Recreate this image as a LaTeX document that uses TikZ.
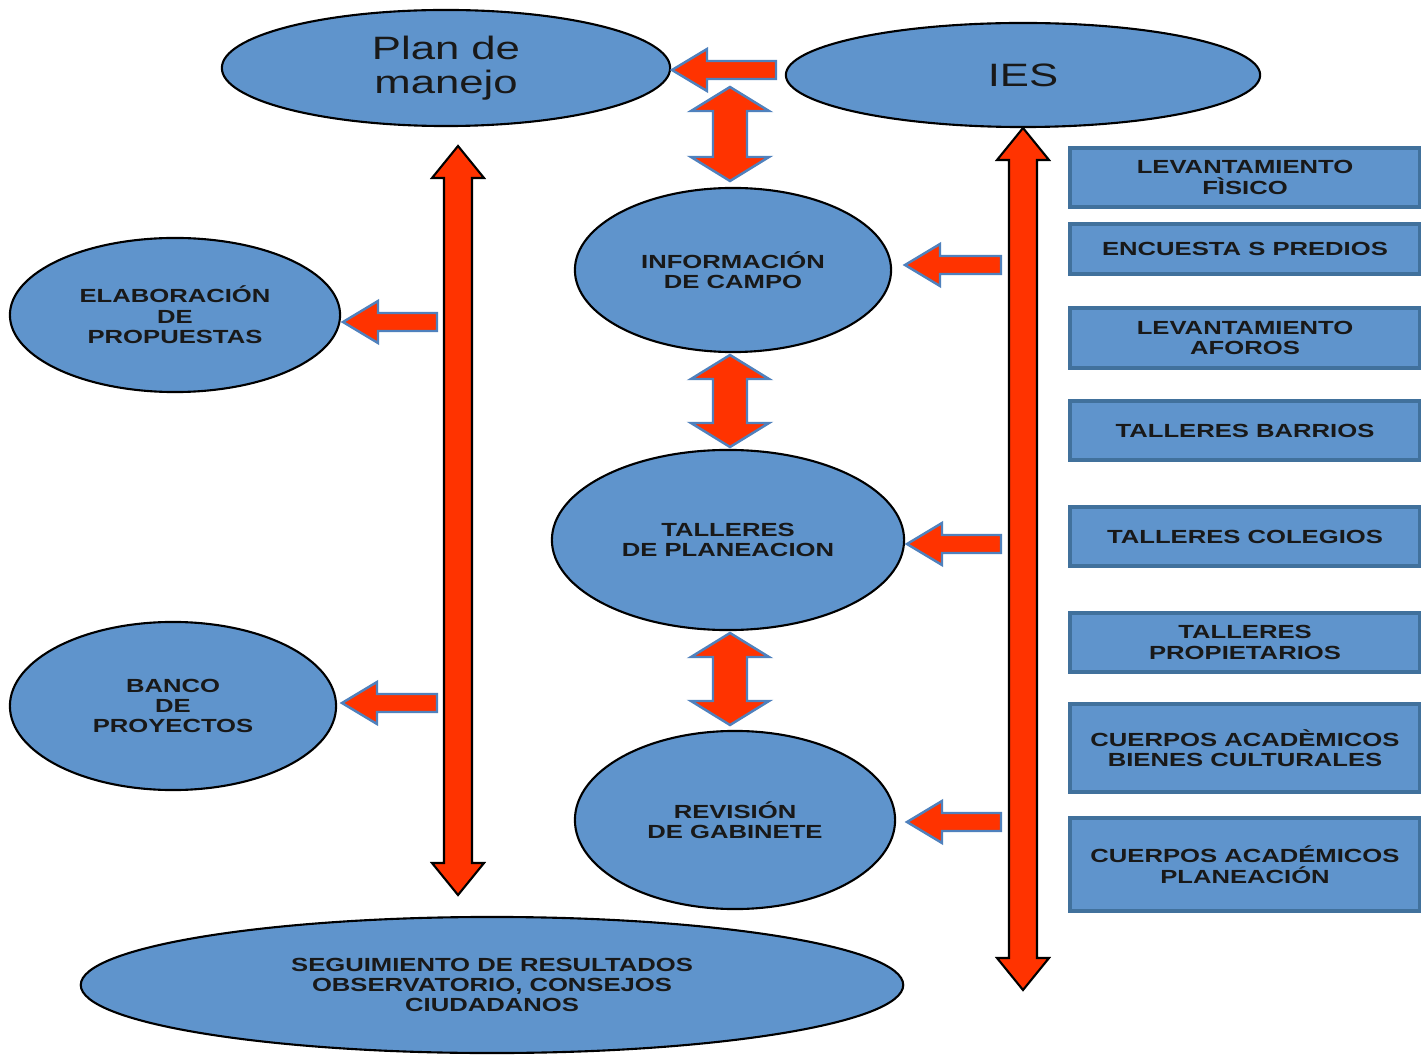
\documentclass[tikz,border=0pt]{standalone}
\usepackage{fontspec}
\setmainfont{Liberation Sans}
\newfontfamily\labfont[FakeStretch=1.35]{Liberation Sans}
\usetikzlibrary{shapes.geometric}
\definecolor{fillblue}{RGB}{95,148,204}
\definecolor{rectedge}{RGB}{65,113,156}
\definecolor{arrred}{RGB}{255,51,0}
\definecolor{arredge}{RGB}{79,129,189}
\definecolor{txt}{RGB}{25,25,25}
\tikzset{
  oval/.style={ellipse, draw=black, line width=0.6pt, fill=fillblue, inner sep=0pt,
    align=center, text=txt, font=\labfont\bfseries\fontsize{5.4}{5.8}\selectfont},
  bigtext/.style={font=\labfont\fontsize{9.2}{9.7}\selectfont},
  box/.style={rectangle, draw=rectedge, line width=1pt, fill=fillblue, align=center,
    text=txt, inner sep=0pt, minimum width=3.5cm,
    font=\labfont\bfseries\fontsize{5.4}{5.8}\selectfont},
  blockarrow/.style={fill=arrred, draw=arredge, line width=0.7pt, line join=miter},
  longarrow/.style={fill=arrred, draw=black, line width=0.6pt, line join=miter},
}
% left-pointing block arrow: tip x, tail x, y
\newcommand{\hblock}[3]{%
  \draw[blockarrow] (#1,#3) -- (#1+35,#3-21) -- (#1+35,#3-9) -- (#2,#3-9)
    -- (#2,#3+9) -- (#1+35,#3+9) -- (#1+35,#3+21) -- cycle;}
% vertical double block arrow: x, top tip y, bottom tip y
\newcommand{\vblock}[3]{%
  \draw[blockarrow] (#1,#2) -- (#1+39,#2+24) -- (#1+17,#2+24) -- (#1+17,#3-24)
    -- (#1+39,#3-24) -- (#1,#3) -- (#1-39,#3-24) -- (#1-17,#3-24)
    -- (#1-17,#2+24) -- (#1-39,#2+24) -- cycle;}
% long vertical double arrow: x, top tip y, bottom tip y
\newcommand{\vlong}[3]{%
  \draw[longarrow] (#1,#2) -- (#1+26,#2+32) -- (#1+14,#2+32) -- (#1+14,#3-32)
    -- (#1+26,#3-32) -- (#1,#3) -- (#1-26,#3-32) -- (#1-14,#3-32)
    -- (#1-14,#2+32) -- (#1-26,#2+32) -- cycle;}
\begin{document}
\begin{tikzpicture}[x=0.01cm, y=-0.01cm]
\useasboundingbox[fill=white] (0,0) rectangle (1421,1055);

% ellipses
\node[oval, bigtext, minimum width=4.48cm, minimum height=1.16cm] (plan) at (446,68) {Plan de\\manejo};
\node[oval, bigtext, minimum width=4.74cm, minimum height=1.04cm] (ies) at (1023,75) {IES};
\node[oval, minimum width=3.16cm, minimum height=1.64cm] (info) at (733,270) {INFORMACIÓN\\DE CAMPO};
\node[oval, minimum width=3.52cm, minimum height=1.80cm] (talleres) at (728,540) {TALLERES\\DE PLANEACION};
\node[oval, minimum width=3.20cm, minimum height=1.78cm] (revision) at (735,820) {REVISIÓN\\DE GABINETE};
\node[oval, minimum width=3.30cm, minimum height=1.54cm] (elab) at (175,315) {ELABORACIÓN\\DE\\PROPUESTAS};
\node[oval, minimum width=3.26cm, minimum height=1.68cm] (banco) at (173,706) {BANCO\\DE\\PROYECTOS};
\node[oval, minimum width=8.22cm, minimum height=1.36cm] (seguim) at (492,985) {SEGUIMIENTO DE RESULTADOS\\OBSERVATORIO, CONSEJOS\\CIUDADANOS};

% right column boxes
\node[box, minimum height=0.59cm] (r1) at (1245,177.5) {LEVANTAMIENTO\\FÌSICO};
\node[box, minimum height=0.50cm] (r2) at (1245,249) {ENCUESTA S PREDIOS};
\node[box, minimum height=0.60cm] (r3) at (1245,338) {LEVANTAMIENTO\\AFOROS};
\node[box, minimum height=0.59cm] (r4) at (1245,430.5) {TALLERES BARRIOS};
\node[box, minimum height=0.59cm] (r5) at (1245,536.5) {TALLERES COLEGIOS};
\node[box, minimum height=0.59cm] (r6) at (1245,642.5) {TALLERES\\PROPIETARIOS};
\node[box, minimum height=0.88cm] (r7) at (1245,748) {CUERPOS ACADÈMICOS\\BIENES CULTURALES};
\node[box, minimum height=0.93cm] (r8) at (1245,864.5) {CUERPOS ACADÉMICOS\\PLANEACIÓN};

% long double arrows
\vlong{458}{146}{895}
\vlong{1023}{128}{990}

% horizontal block arrows
\hblock{672}{776}{70}
\hblock{905}{1001}{265}
\hblock{907}{1001}{544}
\hblock{907}{1001}{822}
\hblock{343}{437}{322}
\hblock{342}{437}{703}

% vertical double block arrows
\vblock{730}{87}{181}
\vblock{730}{355}{447}
\vblock{730}{633}{725}
\end{tikzpicture}
\end{document}
